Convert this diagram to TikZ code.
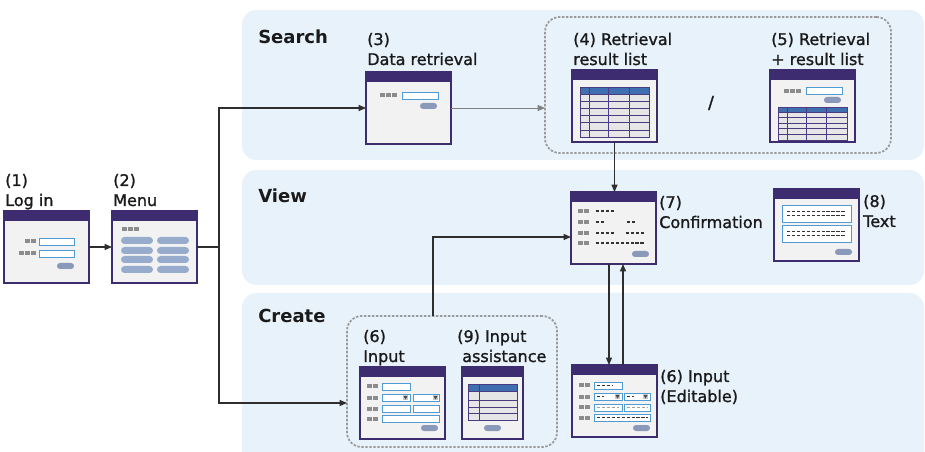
\documentclass[tikz,border=0pt]{standalone}
\usepackage{fontspec}
\setmainfont{DejaVu Sans}
\newfontfamily\lblfont[FakeBold=1.2]{DejaVu Sans}
\usetikzlibrary{arrows.meta}
\definecolor{panel}{HTML}{E8F2FA}
\definecolor{winpurple}{HTML}{3E2C70}
\definecolor{winbody}{HTML}{F2F2F2}
\definecolor{sqgray}{HTML}{8C8C8C}
\definecolor{inblue}{HTML}{4E9BD5}
\definecolor{btncol}{HTML}{8A98BA}
\definecolor{menucol}{HTML}{97ACCD}
\definecolor{thead}{HTML}{3F6FB0}
\definecolor{tbody}{HTML}{E6E6E6}
\definecolor{tlinec}{HTML}{4B3B80}
\definecolor{grpgray}{HTML}{9A9A9A}
\definecolor{txt}{HTML}{1A1A1A}
\definecolor{lncol}{HTML}{2E2E2E}
\definecolor{ddbg}{HTML}{C8C8C8}
\definecolor{ddfg}{HTML}{4A4A4A}
\definecolor{dashdark}{HTML}{333333}
\definecolor{dashlight}{HTML}{A0A0A0}
\newcommand\grsq[3]{\foreach \k in {1,...,#3}{\fill[sqgray] ({#1+(\k-1)*6},#2) rectangle ++(5,4);}}
\newcommand\ibox[4]{\filldraw[inbox] (#1,#2) rectangle (#3,#4);}
\newcommand\pill[2]{\fill[btncol, rounded corners=2.2pt] (#1,#2) rectangle ++(17,6);}
\newcommand\mpill[2]{\fill[menucol, rounded corners=2.6pt] (#1,#2) rectangle ++(32,7);}
\newcommand\dd[2]{\fill[ddbg] (#1,#2) rectangle ++(5,5); \fill[ddfg] (#1+0.5,#2+1) -- ++(4,0) -- ++(-2,3.5) -- cycle;}
\newcommand\dln[4][dashdark]{\draw[dashln,draw=#1] (#2,#4) -- (#3,#4);}
\newcommand\tbl[7]{\fill[tbody] (#1,#2) rectangle (#3,#4); \fill[thead] (#1,#2) rectangle (#3,#5);
  \foreach \yy in {#7} {\draw[tline] (#1,\yy) -- (#3,\yy);}
  \foreach \xx in {#6} {\draw[tline] (\xx,#2) -- (\xx,#4);}
  \draw[tline] (#1,#2) rectangle (#3,#4);}
\newcommand\winbar[1]{\fill[winpurple] ([xshift=-0.6pt,yshift=0.6pt]#1.north west) rectangle ([xshift=0.6pt,yshift=-7.5pt]#1.north east);}
\begin{document}
\begin{tikzpicture}[x=0.75pt,y=-0.75pt,
  win/.style={draw=winpurple, fill=winbody, line width=1.2pt, minimum width=63.75pt, minimum height=54pt, inner sep=0pt, outer sep=0pt, anchor=north west},
  grp/.style={draw=grpgray, line width=1.3pt, dash pattern=on 1.8pt off 1.2pt, rounded corners=11pt, inner sep=0pt, outer sep=0pt, anchor=north west},
  lbl/.style={font=\lblfont\fontsize{12}{15}\selectfont, text=txt, inner sep=0pt, anchor=base west, align=left},
  sect/.style={font=\fontsize{13.5}{16}\selectfont\bfseries, text=txt, inner sep=0pt, anchor=base west},
  arr/.style={draw=lncol, line width=0.8pt, -{Triangle[length=5.5pt,width=4.5pt]}},
  ln/.style={draw=lncol, line width=0.8pt},
  inbox/.style={draw=inblue, fill=white, line width=0.7pt},
  tline/.style={draw=tlinec, line width=0.6pt},
  dashln/.style={line width=0.8pt, dash pattern=on 2.6pt off 1.1pt}
]
\useasboundingbox (0,0) rectangle (925,452);
% panels
\fill[panel, rounded corners=11pt] (242,10) rectangle (924,160);
\fill[panel, rounded corners=11pt] (242,170) rectangle (924,285);
\fill[panel, rounded corners=11pt] (242,293) rectangle (924,475);
\node[sect] (tS) at (258,44) {Search};
\node[sect] (tV) at (258,203) {View};
\node[sect] (tC) at (258,323) {Create};
% dashed groups
\node[grp, minimum width=259.5pt, minimum height=102pt] (g1) at (545,17) {};
\node[grp, minimum width=157.5pt, minimum height=98.25pt] (g2) at (347,316) {};
% labels (anchor = baseline of the last line)
\node[lbl] (l1) at (5,206) {(1)\\Log in};
\node[lbl] (l2) at (113,206) {(2)\\Menu};
\node[lbl] (l3) at (367,65) {(3)\\Data retrieval};
\node[lbl] (l4) at (573,65) {(4) Retrieval\\result list};
\node[lbl] (l5) at (771,65) {(5) Retrieval\\+ result list};
\node[lbl] (l7) at (659,228) {(7)\\Confirmation};
\node[lbl] (l8) at (863,227) {(8)\\Text};
\node[lbl] (l6) at (363,362) {(6)\\Input};
\node[lbl] (l9) at (457,362) {(9) Input\\\hspace*{3.75pt}assistance};
\node[lbl] (l6e) at (660,402) {(6) Input\\(Editable)};
\node[lbl, anchor=center, font=\lblfont\fontsize{13}{15}\selectfont] (sl) at (711,103) {/};
% windows
\node[win] (w1) at (4,211) {}; \winbar{w1}
\begin{scope}[shift={(w1.north west)}]
  \grsq{21}{28}{2} \ibox{35}{27}{70}{34}
  \grsq{15}{40}{3} \ibox{35}{39}{70}{46}
  \pill{53}{52}
\end{scope}
\node[win] (w2) at (112,211) {}; \winbar{w2}
\begin{scope}[shift={(w2.north west)}]
  \grsq{10}{16}{3}
  \foreach \yy in {26,36,45,55} {\mpill{9}{\yy} \mpill{45}{\yy}}
\end{scope}
\node[win] (w3) at (366,72) {}; \winbar{w3}
\begin{scope}[shift={(w3.north west)}]
  \grsq{14}{21}{3} \ibox{36}{20}{72}{27}
  \pill{54}{31}
\end{scope}
\node[win] (w4) at (572,70) {}; \winbar{w4}
\begin{scope}[shift={(w4.north west)}]
  \tbl{8}{17}{77}{67}{24}{17,36,57}{24,31.2,38.4,45.6,52.8,60}
\end{scope}
\node[win] (w5) at (770,70) {}; \winbar{w5}
\begin{scope}[shift={(w5.north west)}]
  \grsq{14}{19}{3} \ibox{36}{17}{72}{24}
  \pill{54}{27}
  \tbl{8}{37}{77}{70}{42}{17,36,56}{42,47.5,53,58.5,64}
\end{scope}
\node[win] (w7) at (571,192) {}; \winbar{w7}
\begin{scope}[shift={(w7.north west)}]
  \foreach \yy in {17,28,39,49} {\grsq{7}{\yy}{2}}
  \dln{25}{43}{19}
  \dln{25}{34}{30} \dln{56}{65}{30}
  \dln{25}{43}{41} \dln{55}{74}{41}
  \dln{25}{73}{51}
  \pill{61}{59}
\end{scope}
\node[win] (w8) at (774,189) {}; \winbar{w8}
\begin{scope}[shift={(w8.north west)}]
  \ibox{8}{16}{77}{33} \ibox{8}{36}{77}{53}
  \dln{13}{72}{22.5} \dln{13}{72}{26.5}
  \dln{13}{72}{42.5} \dln{13}{72}{46.5}
  \pill{61}{60}
\end{scope}
\node[win] (w6) at (360,367) {}; \winbar{w6}
\begin{scope}[shift={(w6.north west)}]
  \foreach \yy in {17.5,28.5,39.5,49.5} {\grsq{7}{\yy}{2}}
  \ibox{22}{16}{50}{23}
  \ibox{22}{27}{50}{34} \dd{43}{28}
  \ibox{53}{27}{79}{34} \dd{73}{28}
  \ibox{22}{38}{50}{45} \ibox{53}{38}{79}{45}
  \ibox{22}{48}{79}{55}
  \pill{61}{58}
\end{scope}
\node[win, minimum width=45.75pt] (w9) at (462,367) {}; \winbar{w9}
\begin{scope}[shift={(w9.north west)}]
  \tbl{6}{17}{55}{53}{24}{17}{24,33,40,46}
  \pill{22}{58}
\end{scope}
\node[win] (w6e) at (572,365) {}; \winbar{w6e}
\begin{scope}[shift={(w6e.north west)}]
  \foreach \yy in {18,30,40,50.5} {\grsq{7}{\yy}{2}}
  \ibox{22}{17}{50}{24} \dln{25}{41}{20.5}
  \ibox{22}{28}{50}{35} \dln{25}{32}{31.5} \dd{43}{29}
  \ibox{52}{28}{78}{35} \dln{55}{62}{31.5} \dd{71}{29}
  \ibox{22}{39}{50}{46} \dln[dashlight]{25}{47}{42.5}
  \ibox{52}{39}{78}{46} \dln[dashlight]{55}{76}{42.5}
  \ibox{22}{49}{78}{56} \dln{25}{76}{52.5}
  \pill{61}{60}
\end{scope}
% connectors
\draw[arr] (w1) -- (w2);
\coordinate (j) at (219,247);
\draw[ln] (w2.east) -- (j);
\draw[arr] (j) |- (w3.west);
\draw[arr] (j) |- (g2.west |- w6.west);
\draw[arr, draw=gray, line width=0.6pt] (w3.east) -- (w3.east -| g1.west);
\draw[arr] (w4.south) -- (w4.south |- w7.north);
\coordinate (c6) at (433,237);
\draw[arr] (c6 |- g2.north) -- (c6) -- (c6 -| w7.west);
\coordinate (dn) at (609,300);
\coordinate (upc) at (623,300);
\draw[arr] (dn |- w7.south) -- (dn |- w6e.north);
\draw[arr] (upc |- w6e.north) -- (upc |- w7.south);
\end{tikzpicture}
\end{document}
